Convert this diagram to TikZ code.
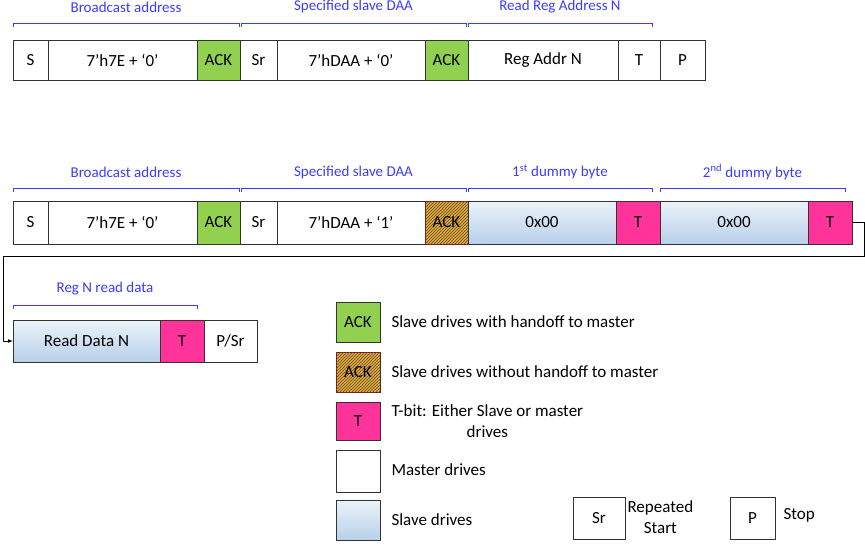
\documentclass[tikz,border=0pt]{standalone}
\usepackage{fontspec}
\setmainfont{Carlito}
\usetikzlibrary{patterns, arrows.meta}
\definecolor{ackgreen}{RGB}{146, 208, 80}
\definecolor{tpink}{RGB}{255, 51, 153}
\definecolor{slavetop}{RGB}{235, 243, 250}
\definecolor{slavebot}{RGB}{184, 207, 233}
\definecolor{bracketblue}{RGB}{60, 60, 255}
% Bracket macro: x1, x2, y, label
\newcommand{\bracketlbl}[4]{
    \draw[draw=bracketblue, thick] (#1,#3+4) -- (#1,#3) -- (#2,#3) -- (#2,#3+4);
    \node[brlabel] at ({(#1+#2)/2},#3-16) {#4};
}
% Cell macro: style, x1, x2, y1, y2, name, text
\newcommand{\cellbox}[7]{
    \draw[#1] (#2,#4) rectangle (#3,#5);
    \node[lbl] (#6) at ({(#2+#3)/2},{(#4+#5)/2}) {#7};
}

\begin{document}
\begin{tikzpicture}[
    x=1pt, y=-1pt,
    cell/.style={draw=black!80, thick},
    master/.style={cell, fill=white},
    ack/.style={cell, fill=ackgreen},
    tbit/.style={cell, fill=tpink},
    slave/.style={cell, top color=slavetop, bottom color=slavebot},
    hatched/.style={cell, fill=ackgreen, postaction={pattern=north east lines, pattern color=red}},
    lbl/.style={font=\fontsize{17}{20}\selectfont, anchor=center},
    brlabel/.style={font=\fontsize{15}{17}\selectfont, text=bracketblue},
    legtext/.style={font=\fontsize{17}{21}\selectfont, anchor=west, align=left}
]
\useasboundingbox (0,0) rectangle (865,546);

% First row
\bracketlbl{13}{239}{23}{Broadcast address}
\bracketlbl{241}{466}{23}{Specified slave DAA}
\bracketlbl{468}{652}{23}{Read Reg Address N}
\cellbox{master}{13}{48}{40}{80}{s1}{S}
\cellbox{master}{48}{197}{40}{80}{addr1}{7'h7E + ‘0’}
\cellbox{ack}{197}{240}{40}{80}{ack1}{ACK}
\cellbox{master}{240}{277}{40}{80}{sr1}{Sr}
\cellbox{master}{277}{425}{40}{80}{daa1}{7'hDAA + ‘0’}
\cellbox{ack}{425}{468}{40}{80}{ack2}{ACK}
\cellbox{master}{468}{618}{40}{80}{reg1}{Reg Addr N}
\cellbox{master}{618}{660}{40}{80}{t1}{T}
\cellbox{master}{660}{705}{40}{80}{p1}{P}

% Second row
\bracketlbl{13}{239}{188}{Broadcast address}
\bracketlbl{241}{466}{188}{Specified slave DAA}
\bracketlbl{468}{652}{188}{1\textsuperscript{st} dummy byte}
\bracketlbl{660}{845}{188}{2\textsuperscript{nd} dummy byte}
\cellbox{master}{13}{48}{201}{244}{s2}{S}
\cellbox{master}{48}{197}{201}{244}{addr2}{7'h7E + ‘0’}
\cellbox{ack}{197}{240}{201}{244}{ack3}{ACK}
\cellbox{master}{240}{277}{201}{244}{sr2}{Sr}
\cellbox{master}{277}{425}{201}{244}{daa2}{7'hDAA + ‘1’}
\cellbox{hatched}{425}{468}{201}{244}{ack4}{ACK}
\cellbox{slave}{468}{616}{201}{244}{dummy1}{0x00}
\cellbox{tbit}{616}{660}{201}{244}{t2}{T}
\cellbox{slave}{660}{808}{201}{244}{dummy2}{0x00}
\cellbox{tbit}{808}{852}{201}{244}{t3}{T}

% Third row
\bracketlbl{13}{197}{305}{Reg N read data}
\cellbox{slave}{13}{160}{320}{362}{data}{Read Data N}
\cellbox{tbit}{160}{204}{320}{362}{t4}{T}
\cellbox{master}{204}{257}{320}{362}{psr}{P/Sr}

% Wrap-around connector
\coordinate (wrapA) at (864,222);
\coordinate (wrapB) at (3,256);
\coordinate (endA) at (852,222);
\coordinate (endB) at (13,341);
\draw[thick, -{Latex[length=5pt]}] (endA) -- (wrapA) |- (wrapB) |- (endB);

% Legend
\cellbox{ack}{336}{380}{302}{342}{lgack}{ACK}
\node[legtext] at (388,322) {Slave drives with handoff to master};
\cellbox{hatched}{336}{380}{352}{392}{lghatch}{ACK}
\node[legtext] at (388,372) {Slave drives without handoff to master};
\cellbox{tbit}{336}{380}{402}{440}{lgt}{T}
\node[legtext, align=center] at (388,421) {T-bit: Either Slave or master\\drives};
\cellbox{master}{336}{380}{450}{492}{lgmaster}{}
\node[legtext] at (388,470) {Master drives};
\cellbox{slave}{336}{380}{500}{540}{lgslave}{}
\node[legtext] at (388,520) {Slave drives};
\cellbox{master}{573}{625}{497}{539}{lgsr}{Sr}
\node[legtext, align=center] at (624,517) {Repeated\\Start};
\cellbox{master}{730}{775}{497}{539}{lgp}{P}
\node[legtext] at (780,515) {Stop};
\end{tikzpicture}
\end{document}
